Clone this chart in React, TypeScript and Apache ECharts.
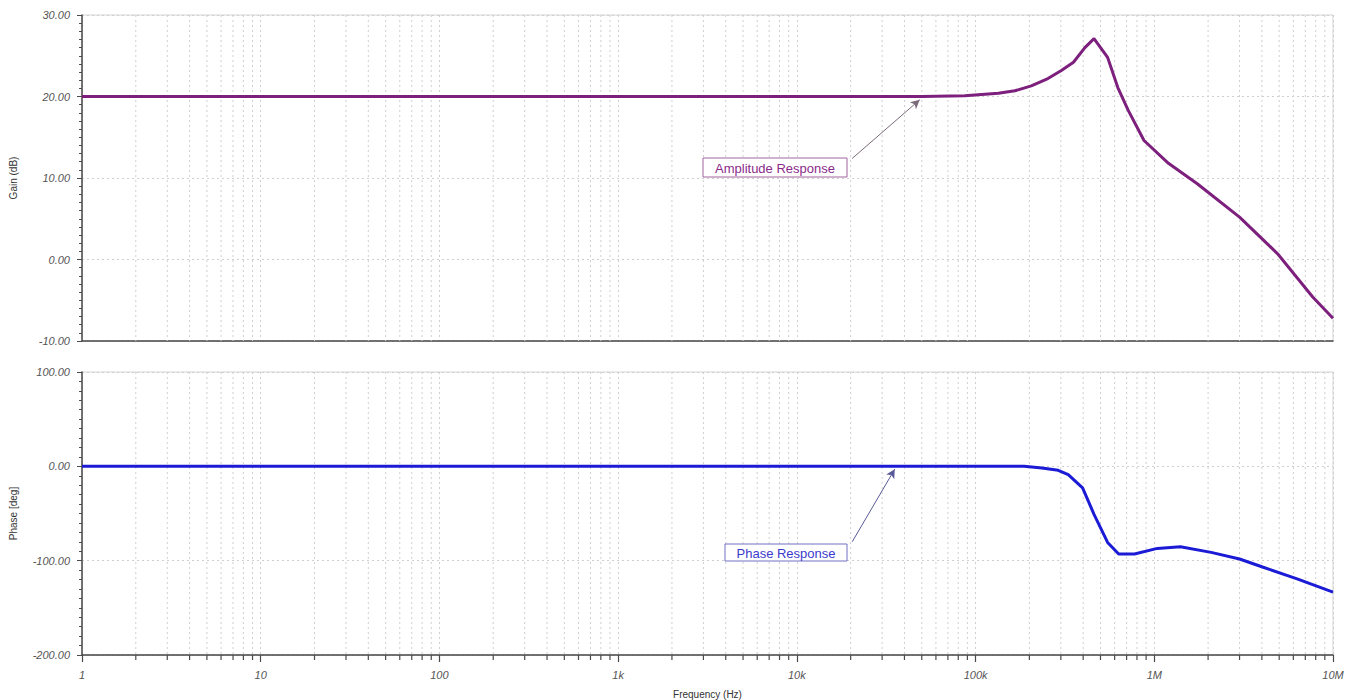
import React, { useEffect, useRef } from "react";
import * as echarts from "echarts";

const xTickLabels = ["1", "10", "100", "1k", "10k", "100k", "1M", "10M"];
const gainFreq = [1, 1e4, 5e4, 87e3, 134e3, 166e3, 205e3, 254e3, 302e3, 353e3, 409e3, 460e3, 548e3, 625e3, 715e3, 876e3, 1.2e6, 1.74e6, 3e6, 4.9e6, 7.7e6, 1e7];
const gainDb = [20, 20, 20, 20.1, 20.4, 20.7, 21.3, 22.2, 23.2, 24.2, 26.0, 27.1, 24.8, 21.1, 18.3, 14.6, 11.8, 9.3, 5.2, 0.7, -4.6, -7.2];
const phaseFreq = [1, 1e4, 187e3, 235e3, 290e3, 330e3, 397e3, 460e3, 548e3, 632e3, 775e3, 1.04e6, 1.4e6, 2.08e6, 3e6, 4.07e6, 6.3e6, 1e7];
const phaseDeg = [0, 0, 0, -1.8, -4.2, -8.8, -22.8, -50.9, -80.7, -93, -93, -87, -85.3, -91.2, -98.2, -107, -119.3, -133.3];
const decades = [1, 10, 100, 1e3, 1e4, 1e5, 1e6];
const subMultipliers = [2, 3, 4, 5, 6, 7, 8, 9];

const FONT = "'Liberation Sans', Arial, sans-serif";
const GAIN_COLOR = "#7d1f7d";
const PHASE_COLOR = "#1b1bd6";
const GRID_COLOR = "#cfcfcf";
const AXIS_COLOR = "#4a4a4a";

export default function App() {
  const ref = useRef<HTMLDivElement>(null);
  useEffect(() => {
    document.body.style.margin = "0";
    if (!ref.current) return;
    const chart = echarts.init(ref.current, null, { renderer: "svg" });
    const minorFreqs: number[][] = [];
    decades.forEach((d) => subMultipliers.forEach((m) => minorFreqs.push([d * m, 0])));

    const gridLines = (yMin: number, yMax: number, withTicks: boolean) => (params: any, api: any) => {
      const f = api.value(0);
      const p1 = api.coord([f, yMax]);
      const p2 = api.coord([f, yMin]);
      const children: any[] = [
        {
          type: "line",
          shape: { x1: p1[0], y1: p1[1], x2: p2[0], y2: p2[1] },
          style: { stroke: GRID_COLOR, lineDash: [2, 3], lineWidth: 1 },
        },
      ];
      if (withTicks) {
        children.push({
          type: "line",
          shape: { x1: p2[0], y1: p2[1], x2: p2[0], y2: p2[1] + 5 },
          style: { stroke: AXIS_COLOR, lineWidth: 1.2 },
        });
      }
      return { type: "group", children };
    };

    const xAxisBase = {
      type: "log",
      logBase: 10,
      min: 1,
      max: 1e7,
      splitNumber: 7,
      splitLine: { show: true, lineStyle: { color: GRID_COLOR, type: [2, 3] } },
    };
    const yLabel = {
      fontFamily: FONT,
      fontStyle: "italic",
      fontSize: 11,
      color: "#555",
      margin: 12,
      formatter: (v: number) => v.toFixed(2),
    };

    chart.setOption({
      animation: false,
      backgroundColor: "#fff",
      grid: [
        { left: 77, right: 25, top: 15, height: 326, show: true, borderColor: "#d4d4d4", borderWidth: 1 },
        { left: 77, right: 25, top: 372, height: 286, show: true, borderColor: "#d4d4d4", borderWidth: 1 },
      ],
      xAxis: [
        {
          ...xAxisBase,
          gridIndex: 0,
          axisLine: { show: true, onZero: false, lineStyle: { color: AXIS_COLOR, width: 1.5 } },
          axisTick: { show: false },
          axisLabel: { show: false },
        },
        {
          ...xAxisBase,
          gridIndex: 1,
          name: "Frequency (Hz)",
          nameLocation: "middle",
          nameGap: 34,
          nameTextStyle: { fontFamily: FONT, fontSize: 10, color: "#333" },
          axisLine: { show: true, onZero: false, lineStyle: { color: AXIS_COLOR, width: 1.5 } },
          axisTick: { show: true, length: 7, lineStyle: { color: AXIS_COLOR, width: 1.2 } },
          axisLabel: {
            fontFamily: FONT,
            fontStyle: "italic",
            fontSize: 11,
            color: "#555",
            margin: 14,
            formatter: (v: number) => xTickLabels[Math.round(Math.log10(v))],
          },
        },
      ],
      yAxis: [
        {
          type: "value",
          gridIndex: 0,
          min: -10,
          max: 30,
          interval: 10,
          name: "Gain (dB)",
          nameLocation: "middle",
          nameGap: 64,
          nameTextStyle: { fontFamily: FONT, fontSize: 10, color: "#333" },
          axisLine: { show: true, onZero: false, lineStyle: { color: AXIS_COLOR, width: 1.5 } },
          axisTick: { show: true, length: 5, lineStyle: { color: AXIS_COLOR } },
          minorTick: { show: true, splitNumber: 10, length: 3, lineStyle: { color: AXIS_COLOR } },
          axisLabel: yLabel,
          splitLine: { show: true, lineStyle: { color: GRID_COLOR, type: [2, 3] } },
        },
        {
          type: "value",
          gridIndex: 1,
          min: -200,
          max: 100,
          interval: 100,
          name: "Phase [deg]",
          nameLocation: "middle",
          nameGap: 64,
          nameTextStyle: { fontFamily: FONT, fontSize: 10, color: "#333" },
          axisLine: { show: true, onZero: false, lineStyle: { color: AXIS_COLOR, width: 1.5 } },
          axisTick: { show: true, length: 5, lineStyle: { color: AXIS_COLOR } },
          minorTick: { show: true, splitNumber: 10, length: 3, lineStyle: { color: AXIS_COLOR } },
          axisLabel: yLabel,
          splitLine: { show: true, lineStyle: { color: GRID_COLOR, type: [2, 3] } },
        },
      ],
      series: [
        {
          type: "custom",
          xAxisIndex: 0,
          yAxisIndex: 0,
          silent: true,
          clip: false,
          z: 1,
          renderItem: gridLines(-10, 30, false),
          data: minorFreqs,
        },
        {
          type: "custom",
          xAxisIndex: 1,
          yAxisIndex: 1,
          silent: true,
          clip: false,
          z: 1,
          renderItem: gridLines(-200, 100, true),
          data: minorFreqs,
        },
        {
          name: "Amplitude Response",
          type: "line",
          xAxisIndex: 0,
          yAxisIndex: 0,
          z: 5,
          showSymbol: false,
          data: gainFreq.map((f, i) => [f, gainDb[i]]),
          lineStyle: { color: GAIN_COLOR, width: 3 },
          itemStyle: { color: GAIN_COLOR },
          markLine: {
            silent: true,
            symbol: ["none", "arrow"],
            symbolSize: [7, 9],
            label: { show: false },
            lineStyle: { color: "#7a6a7a", width: 1, type: "solid" },
            data: [[{ coord: [20400, 12.4] }, { coord: [48700, 19.6] }]],
          },
        },
        {
          name: "Phase Response",
          type: "line",
          xAxisIndex: 1,
          yAxisIndex: 1,
          z: 5,
          showSymbol: false,
          data: phaseFreq.map((f, i) => [f, phaseDeg[i]]),
          lineStyle: { color: PHASE_COLOR, width: 3 },
          itemStyle: { color: PHASE_COLOR },
          markLine: {
            silent: true,
            symbol: ["none", "arrow"],
            symbolSize: [7, 9],
            label: { show: false },
            lineStyle: { color: "#5a5a9a", width: 1, type: "solid" },
            data: [[{ coord: [20400, -80] }, { coord: [35300, -3] }]],
          },
        },
      ],
      graphic: [
        {
          type: "group",
          children: [
            { type: "rect", shape: { x: 703, y: 158, width: 144, height: 19 }, style: { fill: "#fff", stroke: "#a064a0", lineWidth: 1 }, z: 10 },
            { type: "text", x: 775, y: 168, style: { text: "Amplitude Response", fill: "#8a2b8a", fontFamily: FONT, fontSize: 13, align: "center", verticalAlign: "middle" }, z: 11 },
          ],
        },
        {
          type: "group",
          children: [
            { type: "rect", shape: { x: 725, y: 544, width: 122, height: 17 }, style: { fill: "#fff", stroke: "#7070c4", lineWidth: 1 }, z: 10 },
            { type: "text", x: 786, y: 553, style: { text: "Phase Response", fill: "#3a3acc", fontFamily: FONT, fontSize: 13, align: "center", verticalAlign: "middle" }, z: 11 },
          ],
        },
      ],
    });
    return () => chart.dispose();
  }, []);
  return <div ref={ref} style={{ width: 1358, height: 700 }} />;
}
